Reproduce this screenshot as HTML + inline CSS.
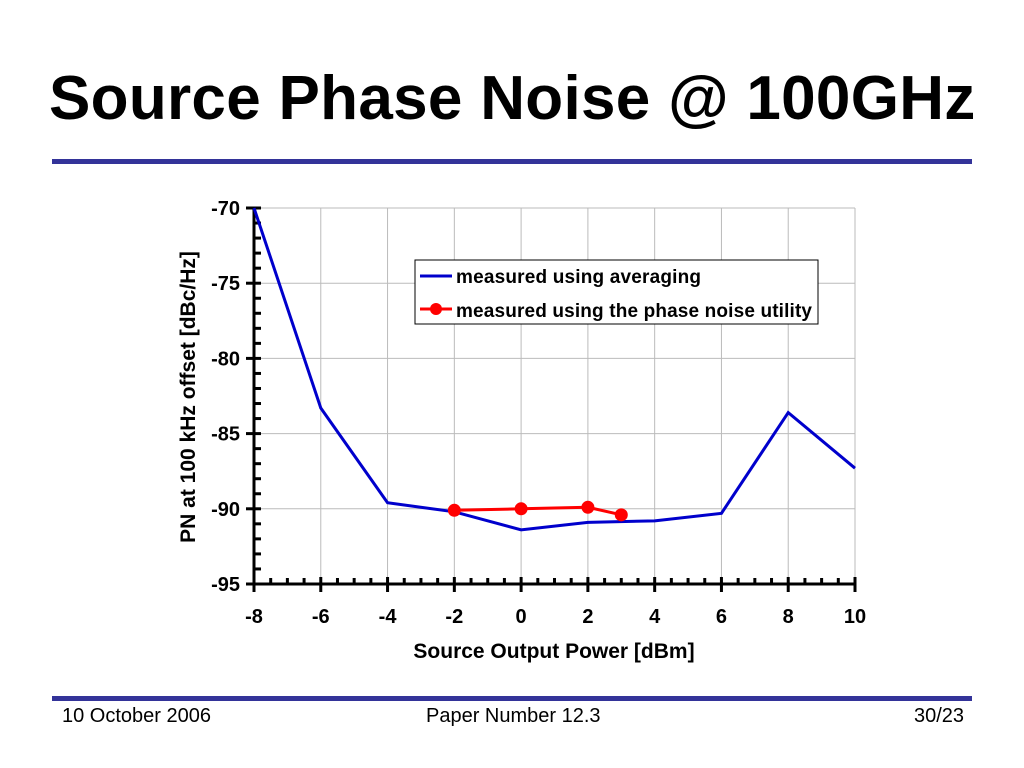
<!DOCTYPE html>
<html><head><meta charset="utf-8"><style>
body{margin:0;width:1024px;height:768px;background:#fff;overflow:hidden;font-family:"Liberation Sans",Arial,sans-serif;position:relative}
#title{position:absolute;left:49px;top:63px;font-size:62px;font-weight:bold;color:#000;margin:0;line-height:72px;white-space:nowrap;letter-spacing:0.3px}
.rule{position:absolute;left:52px;width:920px;height:5px;background:#333399}
.foot{position:absolute;top:705px;font-size:20px;color:#000}
</style></head><body>
<h1 id="title">Source Phase Noise @ 100GHz</h1>
<div class="rule" style="top:159px"></div>
<div class="rule" style="top:696px"></div>
<div class="foot" style="left:62px">10 October 2006</div>
<div class="foot" style="left:426px">Paper Number 12.3</div>
<div class="foot" style="left:914px">30/23</div>
<svg id="chart" width="1024" height="768" style="position:absolute;left:0;top:0"></svg>
<script>
const xTicks=[-8,-6,-4,-2,0,2,4,6,8,10];
const yTicks=[-70,-75,-80,-85,-90,-95];
const blueX=[-8,-6,-4,-2,0,2,4,6,8,10];
const blueY=[-70,-83.3,-89.6,-90.2,-91.4,-90.9,-90.8,-90.3,-83.6,-87.3];
const redX=[-2,0,2,3];
const redY=[-90.1,-90.0,-89.9,-90.4];
const NS='http://www.w3.org/2000/svg';
const svg=document.getElementById('chart');
const X0=254,X1=855,Y0=208,Y1=584;
const sx=v=>X0+(v+8)/18*(X1-X0);
const sy=v=>Y0+(-70-v)/25*(Y1-Y0);
function mk(t,a,p){const e=document.createElementNS(NS,t);for(const k in a)e.setAttribute(k,a[k]);(p||svg).appendChild(e);return e;}
const F='Liberation Sans, sans-serif';
const grid=mk('g',{});


xTicks.forEach(v=>mk('line',{x1:sx(v),x2:sx(v),y1:Y0,y2:Y1,stroke:'#bbb','stroke-width':1},grid));
yTicks.forEach(v=>mk('line',{x1:X0,x2:X1,y1:sy(v),y2:sy(v),stroke:'#bbb','stroke-width':1},grid));
const ax=mk('g',{stroke:'#000','stroke-width':3});


mk('line',{x1:X0,x2:X0,y1:Y0-1,y2:Y1+1},ax);
mk('line',{x1:X0-1,x2:X1+1,y1:Y1,y2:Y1},ax);
for(let v=-8;v<=10.001;v+=0.5){const maj=Math.abs(v%2)<1e-6;mk('line',{x1:sx(v),x2:sx(v),y1:maj?Y1-7:Y1-6,y2:maj?Y1+8:Y1},ax);}
for(let v=-95;v<=-70;v+=1){const maj=v%5===0;mk('line',{x1:maj?X0-8:X0,x2:X0+7,y1:sy(v),y2:sy(v)},ax);}
xTicks.forEach(v=>{const t=mk('text',{x:sx(v),y:623,'text-anchor':'middle','font-size':20,'font-weight':'bold','font-family':F});t.textContent=v;

});
yTicks.forEach(v=>{const t=mk('text',{x:X0-14,y:sy(v)+7,'text-anchor':'end','font-size':20,'font-weight':'bold','font-family':F});t.textContent=v;

});
const xt=mk('text',{x:554,y:658,'text-anchor':'middle','font-size':21,'font-weight':'bold','font-family':F});xt.textContent='Source Output Power [dBm]';


const yt=mk('text',{x:0,y:0,transform:'translate(195,397) rotate(-90)','text-anchor':'middle','font-size':21,'font-weight':'bold','font-family':F});yt.textContent='PN at 100 kHz offset [dBc/Hz]';


const bl=mk('polyline',{points:blueX.map((x,i)=>sx(x)+','+sy(blueY[i])).join(' '),fill:'none',stroke:'#0000cc','stroke-width':3});


const rl=mk('polyline',{points:redX.map((x,i)=>sx(x)+','+sy(redY[i])).join(' '),fill:'none',stroke:'#ff0000','stroke-width':3});


redX.forEach((x,i)=>{const c=mk('circle',{cx:sx(x),cy:sy(redY[i]),r:6.5,fill:'#ff0000'});

});
const lg=mk('g',{});


mk('rect',{x:415,y:260,width:403,height:64,fill:'#fff',stroke:'#000','stroke-width':1},lg);
mk('line',{x1:420,x2:452,y1:276,y2:276,stroke:'#0000cc','stroke-width':3},lg);
mk('line',{x1:420,x2:452,y1:309,y2:309,stroke:'#ff0000','stroke-width':3},lg);
mk('circle',{cx:436,cy:309,r:6,fill:'#ff0000'},lg);
const l1=mk('text',{x:456,y:283,'font-size':19,'font-weight':'bold','font-family':F,textLength:245},lg);l1.textContent='measured using averaging';


const l2=mk('text',{x:456,y:317,'font-size':19,'font-weight':'bold','font-family':F,textLength:356},lg);l2.textContent='measured using the phase noise utility';


</script>
</body></html>
